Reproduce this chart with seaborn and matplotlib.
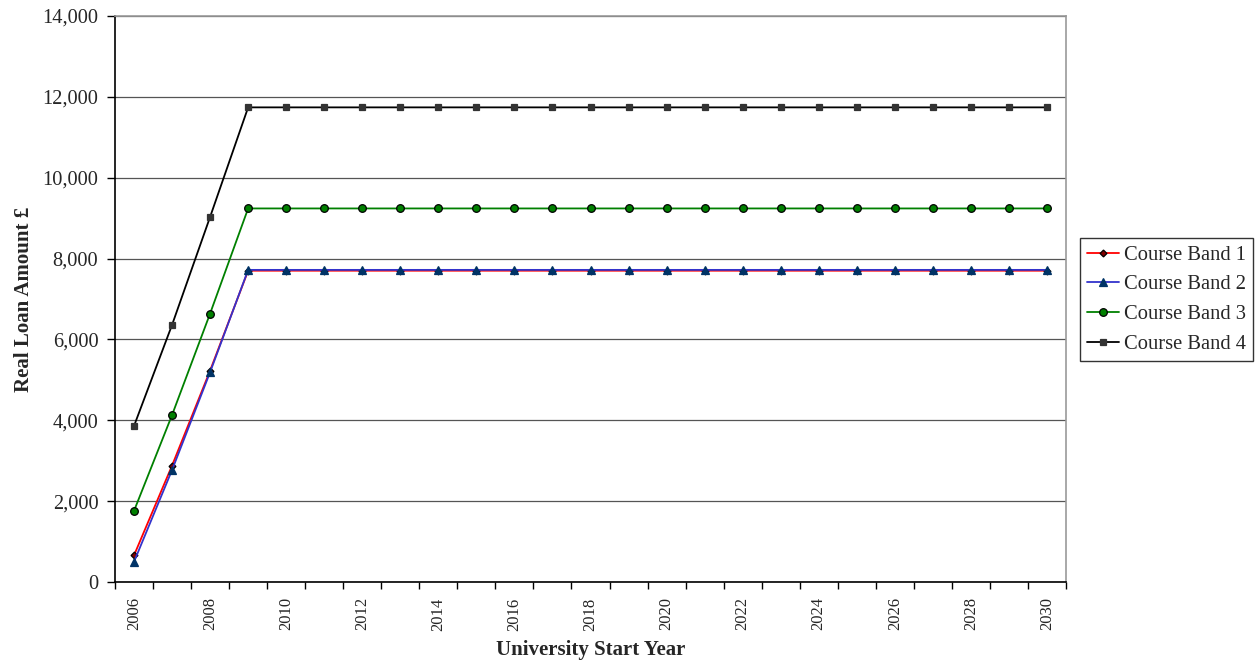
import matplotlib
matplotlib.use("Agg")
import matplotlib.pyplot as plt
import matplotlib.ticker as mticker
import seaborn as sns
import pandas as pd

years = list(range(2006, 2031))
band1 = [660, 2880, 5230] + [7700] * 22
band2 = [500, 2770, 5190] + [7720] * 22
band3 = [1760, 4130, 6640] + [9240] * 22
band4 = [3860, 6360, 9030] + [11740] * 22
series_names = ["Course Band 1", "Course Band 2", "Course Band 3", "Course Band 4"]

df = pd.DataFrame({
    "year": years * 4,
    "value": band1 + band2 + band3 + band4,
    "band": sum([[n] * len(years) for n in series_names], []),
})

sns.set_style("white")
plt.rcParams["font.family"] = ["Liberation Serif", "DejaVu Serif"]

fig = plt.figure(figsize=(12.6, 6.65), dpi=100)
ax = fig.add_axes([115 / 1260, 1 - 582 / 665, (1066 - 115) / 1260, (582 - 16) / 665])

styles = {
    "Course Band 1": dict(color="#ff0000", marker="D", mfc="#800000", mec="black", ms=3.5),
    "Course Band 2": dict(color="#3333cc", marker="^", mfc="#003366", mec="#003366", ms=6),
    "Course Band 3": dict(color="#008000", marker="o", mfc="#008000", mec="black", ms=5.5),
    "Course Band 4": dict(color="black", marker="s", mfc="#333333", mec="#333333", ms=4.5),
}

for name in series_names:
    st = styles[name]
    sns.lineplot(data=df[df["band"] == name], x="year", y="value", ax=ax,
                 color=st["color"], marker=st["marker"], markerfacecolor=st["mfc"],
                 markeredgecolor=st["mec"], markersize=st["ms"], markeredgewidth=0.9,
                 linewidth=1.3, label=name, zorder=3)

ax.set_xlim(2005.5, 2030.5)
ax.set_ylim(0, 14000)
ax.yaxis.set_major_locator(mticker.MultipleLocator(2000))
ax.yaxis.set_major_formatter(mticker.FuncFormatter(lambda v, p: f"{int(v):,}"))
ax.grid(axis="y", color="#555555", linewidth=0.9, zorder=0)
ax.grid(axis="x", visible=False)

ax.set_xticks(years[::2])
ax.set_xticklabels([str(y) for y in years[::2]], rotation=90)
ax.set_xticks([y - 0.5 for y in years] + [2030.5], minor=True)
ax.tick_params(axis="x", which="major", length=0, pad=11, labelsize=12)
ax.tick_params(axis="x", which="minor", length=5, width=1, direction="out", color="black")
ax.tick_params(axis="y", which="major", length=6, width=1, direction="out", color="black",
               labelsize=14.7, pad=6)
ax.xaxis.set_ticks_position("bottom")
ax.yaxis.set_ticks_position("left")

for side in ["left", "bottom"]:
    ax.spines[side].set_color("black")
    ax.spines[side].set_linewidth(1.2)
for side in ["top", "right"]:
    ax.spines[side].set_visible(True)
    ax.spines[side].set_color("#999999")
    ax.spines[side].set_linewidth(1.2)

ax.set_xlabel("University Start Year", fontsize=15, fontweight="bold", labelpad=7)
ax.set_ylabel("Real Loan Amount £", fontsize=15, fontweight="bold", labelpad=6)

leg = ax.legend(loc="center left", bbox_to_anchor=(1.0147, 0.499), frameon=True, fancybox=False,
                edgecolor="black", fontsize=14.8, handlelength=1.55, borderpad=0.35,
                labelspacing=0.5, handletextpad=0.25, borderaxespad=0)
leg.get_frame().set_linewidth(1.0)

fig.savefig("out.png", dpi=100)
